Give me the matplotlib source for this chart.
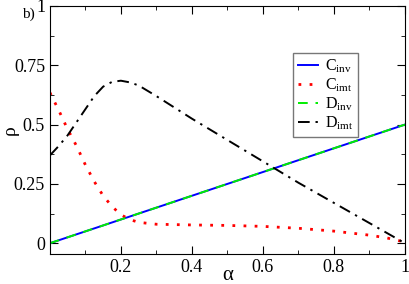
import matplotlib.pyplot as plt
import numpy as np
from matplotlib.ticker import MultipleLocator

plt.rcParams['font.family'] = ['Liberation Serif', 'DejaVu Serif']
plt.rcParams['mathtext.fontset'] = 'custom'
plt.rcParams['mathtext.rm'] = 'Liberation Serif'
plt.rcParams['mathtext.it'] = 'Liberation Serif:italic'

alpha = [0.0, 0.025, 0.05, 0.075, 0.1, 0.125, 0.15, 0.175, 0.2, 0.225, 0.25,
         0.3, 0.4, 0.5, 0.6, 0.7, 0.8, 0.9, 0.95, 1.0]
c_inv = [0.5 * a for a in alpha]
d_inv = [0.5 * a for a in alpha]
c_imt = [0.635, 0.56, 0.48, 0.41, 0.33, 0.26, 0.20, 0.155, 0.12, 0.10, 0.088,
         0.08, 0.077, 0.075, 0.071, 0.063, 0.051, 0.034, 0.022, 0.005]
d_imt_x = [0.0, 0.025, 0.05, 0.075, 0.1, 0.125, 0.15, 0.175, 0.2, 0.225, 0.25,
           0.3, 0.4, 0.5, 0.6, 0.7, 0.8, 0.9, 1.0]
d_imt = [0.37, 0.41, 0.455, 0.51, 0.565, 0.62, 0.66, 0.68, 0.685, 0.678, 0.665,
         0.62, 0.525, 0.435, 0.345, 0.255, 0.17, 0.085, 0.0]

fig = plt.figure(figsize=(4.09, 2.84), dpi=100)
ax = fig.add_axes([0.122, 0.106, 0.868, 0.873])

ax.plot(alpha, c_inv, color='blue', lw=1.4, label=r'C$_\mathrm{inv}$')
ax.plot(alpha, c_imt, color='red', lw=2, ls=(0, (1, 3)), label=r'C$_\mathrm{imt}$')
ax.plot(alpha, d_inv, color='#00ee00', lw=1.4, ls=(0, (5, 4)), label=r'D$_\mathrm{inv}$')
ax.plot(d_imt_x, d_imt, color='black', lw=1.4, ls=(0, (6, 3, 1.2, 3)), label=r'D$_\mathrm{imt}$')

ax.set_xlim(0, 1)
ax.set_ylim(-0.045, 1)
ax.set_xticks([0.2, 0.4, 0.6, 0.8, 1.0])
ax.set_xticklabels(['0.2', '0.4', '0.6', '0.8', '1'])
ax.set_yticks([0, 0.25, 0.5, 0.75, 1.0])
ax.set_yticklabels(['0', '0.25', '0.5', '0.75', '1'])
ax.xaxis.set_minor_locator(MultipleLocator(0.1))
ax.yaxis.set_minor_locator(MultipleLocator(0.125))
ax.tick_params(direction='in', which='both', top=True, right=True, labelsize=13)
ax.tick_params(which='major', length=6)
ax.tick_params(which='minor', length=3)

ax.set_xlabel('α', fontsize=15)
ax.set_ylabel('ρ', fontsize=14)
ax.xaxis.set_label_coords(0.5, -0.05)
ax.yaxis.set_label_coords(-0.088, 0.5)
fig.text(0.054, 0.937, 'b)', fontsize=11)

leg = ax.legend(loc='upper right', bbox_to_anchor=(0.868, 0.81), borderaxespad=0,
                fontsize=11.5, frameon=True, fancybox=False, edgecolor='#555555',
                handlelength=1.3, labelspacing=0.1, borderpad=0.3, handletextpad=0.4)
leg.get_frame().set_linewidth(1.0)

fig.savefig('out.png', dpi=100)
